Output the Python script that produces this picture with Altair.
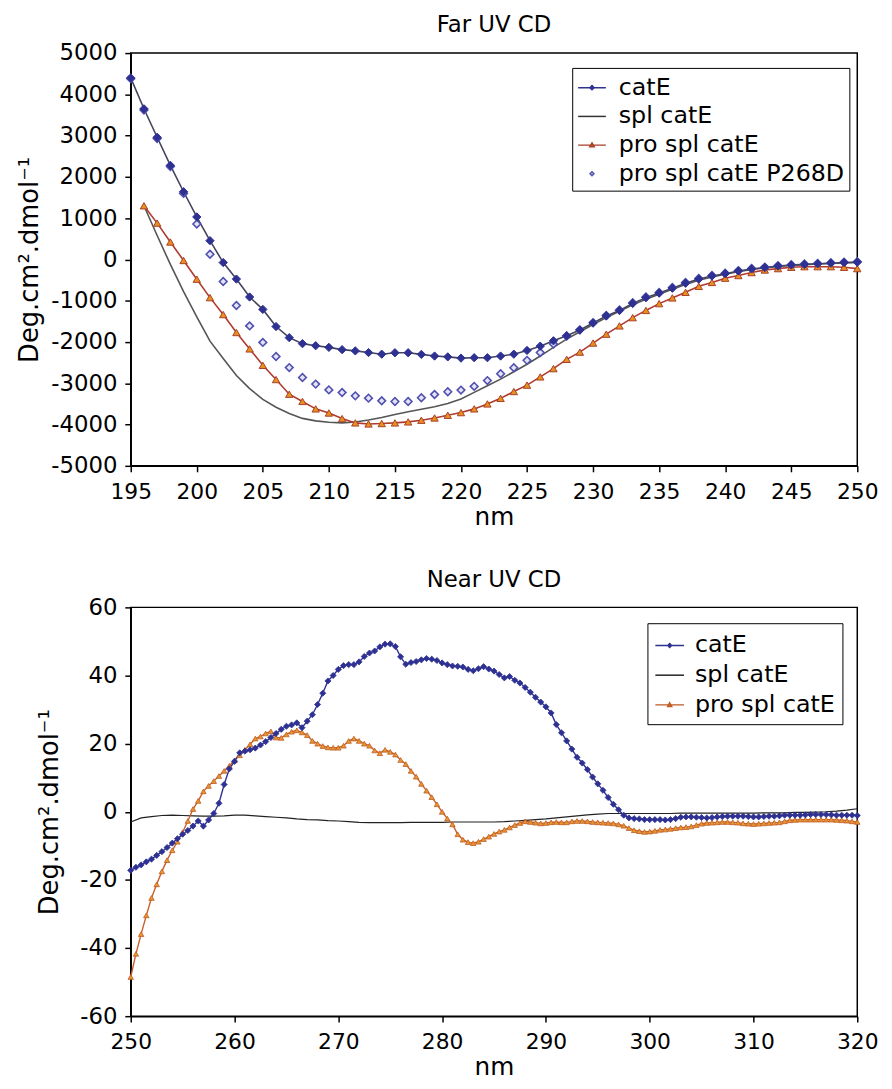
import altair as alt
import pandas as pd

# ---------------- Far UV CD (top) ----------------
FAR_NM = list(range(195, 251))
far_cate = [4400, 3650, 2960, 2280, 1640, 1030, 455, -75, -475, -910,
            -1210, -1625, -1895, -2040, -2090, -2130, -2185, -2215, -2255, -2295,
            -2260, -2260, -2300, -2340, -2360, -2390, -2380, -2380, -2340, -2295,
            -2205, -2100, -1970, -1850, -1710, -1540, -1370, -1235, -1065, -925,
            -815, -695, -575, -475, -400, -345, -280, -230, -195, -160,
            -135, -120, -105, -90, -75, -65]
far_p268d = [4380, 3620, 2930, 2250, 1600, 860, 125, -533, -1115, -1610,
             -2010, -2350, -2620, -2860, -3020, -3160, -3225, -3305, -3360, -3425,
             -3440, -3440, -3350, -3270, -3205, -3165, -3075, -2935, -2770, -2625,
             -2445, -2255, -2050, -1855, -1705, -1530, -1355, -1225, -1050, -910,
             -800, -680, -560, -460, -390, -335, -270, -220, -185, -150,
             -127, -110, -95, -80, -65, -55]
FAR_NM_PRO = list(range(196, 251))
far_pro = [1300, 880, 423, -25, -478, -925, -1335, -1770, -2167, -2565,
           -2910, -3265, -3440, -3620, -3720, -3855, -3960, -3985, -3975, -3960,
           -3935, -3895, -3840, -3775, -3710, -3620, -3500, -3365, -3200, -3045,
           -2845, -2645, -2420, -2245, -2025, -1810, -1610, -1410, -1235, -1070,
           -932, -796, -652, -557, -454, -390, -318, -255, -222, -190,
           -175, -175, -175, -190, -222]
far_spl = [1300, 580, -120, -780, -1390, -1980, -2400, -2810, -3130, -3390,
           -3580, -3730, -3850, -3910, -3945, -3960, -3940, -3890, -3830, -3755,
           -3690, -3630, -3570, -3490, -3380, -3220, -3060, -2900, -2720, -2540,
           -2340, -2130, -1930, -1750, -1580, -1410, -1255, -1100, -965, -845,
           -725, -605, -505, -425, -355, -295, -245, -205, -170, -145,
           -125, -110, -95, -85, -75]

FAR_SERIES = ["catE", "spl catE", "pro spl catE", "pro spl catE P268D"]
FAR_STROKES = ["#2e3192", "#333333", "#a8402a", "#5050b0"]
FAR_FILLS = ["#2e3192", "#333333", "#e8901e", "#e4e4f4"]
FAR_SHAPES = ["M-1,0H1M0,-0.15L0.15,0L0,0.15L-0.15,0Z",
              "M-1,0H1",
              "M-1,0H1M0,-0.16L0.16,0.12L-0.16,0.12Z",
              "M0,-0.14L0.14,0L0,0.14L-0.14,0Z"]

# ---------------- Near UV CD (bottom) ----------------
near_cate = [-17.2, -16.3, -15.6, -14.7, -13.9, -12.8, -11.7, -10.5, -9.2, -7.9,
             -6.6, -5.5, -4.2, -2.7, -4.2, -2.4, -0.5, 2.5, 8.0, 12.6,
             14.8, 17.3, 17.8, 18.2, 18.7, 19.6, 20.6, 21.8, 23.0, 24.2,
             25.1, 25.5, 26.1, 24.7, 26.6, 28.5, 31.5, 34.8, 38.4, 40.0,
             41.8, 42.9, 43.2, 43.2, 44.0, 45.6, 46.6, 47.2, 48.4, 49.2,
             49.3, 48.5, 45.5, 43.3, 43.8, 44.1, 44.6, 45.0, 44.8, 44.4,
             43.7, 43.2, 42.8, 42.7, 42.5, 41.8, 41.4, 42.0, 42.6, 41.9,
             41.3, 40.3, 39.3, 39.7, 38.6, 37.8, 36.5, 35.1, 33.6, 32.2,
             30.8, 29.0, 25.6, 23.2, 20.8, 18.4, 16.0, 14.3, 12.4, 10.2,
             8.2, 6.3, 4.2, 2.2, 0.6, -1.0, -1.8, -2.0, -2.1, -2.3,
             -2.3, -2.3, -2.3, -2.4, -2.3, -2.0, -1.6, -1.5, -1.5, -1.6,
             -1.7, -1.8, -1.7, -1.5, -1.4, -1.3, -1.3, -1.3, -1.3, -1.4,
             -1.5, -1.5, -1.4, -1.3, -1.3, -1.2, -1.0, -1.0, -1.0, -1.0,
             -0.9, -0.8, -0.8, -0.8, -0.8, -0.9, -1.0, -1.0, -1.0, -1.0,
             -1.1]
near_pro = [-48.5, -41.7, -35.9, -30.4, -25.3, -21.3, -17.5, -14.2, -11.3, -8.8,
            -6.0, -2.7, 0.8, 3.2, 6.0, 7.6, 9.0, 10.5, 12.0, 13.5,
            15.1, 16.6, 18.2, 19.8, 21.5, 22.1, 23.0, 23.6, 21.8, 21.7,
            22.7, 23.5, 23.9, 23.3, 22.5, 20.8, 20.0, 19.3, 18.9, 18.8,
            18.8, 19.4, 20.8, 21.5, 20.8, 20.0, 19.4, 18.0, 17.2, 18.2,
            17.6, 16.8, 15.2, 14.0, 12.0, 10.3, 8.2, 6.2, 4.3, 2.2,
            0.0, -2.0, -3.7, -6.6, -8.2, -8.9, -9.2, -8.8, -8.0, -7.3,
            -6.5, -5.8, -5.3, -4.6, -3.9, -3.3, -2.8, -3.0, -3.2, -3.4,
            -3.3, -3.1, -3.0, -3.1, -3.1, -2.8, -2.7, -2.7, -2.8, -3.0,
            -3.1, -3.2, -3.3, -3.4, -3.7, -4.1, -4.8, -5.4, -5.7, -5.9,
            -5.8, -5.6, -5.3, -5.2, -5.0, -4.8, -4.6, -4.5, -4.3, -3.9,
            -3.5, -3.3, -3.2, -3.1, -3.0, -3.0, -3.1, -3.2, -3.4, -3.5,
            -3.6, -3.5, -3.4, -3.3, -3.2, -3.1, -2.8, -2.5, -2.4, -2.3,
            -2.3, -2.3, -2.3, -2.3, -2.3, -2.3, -2.4, -2.5, -2.6, -2.8,
            -3.0]
NEAR_NM_HALF = [250 + 0.5 * i for i in range(len(near_cate))]
NEAR_NM = list(range(250, 321))
near_spl = [-3.0, -1.8, -1.4, -1.1, -1.0, -1.1, -1.2, -1.3, -1.3, -1.2,
            -1.0, -1.0, -1.2, -1.4, -1.6, -1.8, -2.1, -2.3, -2.4, -2.6,
            -2.7, -2.9, -3.1, -3.2, -3.2, -3.2, -3.2, -3.1, -3.1, -3.1,
            -3.1, -3.0, -3.0, -3.0, -3.0, -3.0, -2.9, -2.7, -2.5, -2.3,
            -2.1, -1.8, -1.5, -1.2, -0.9, -0.7, -0.5, -0.5, -0.5, -0.5,
            -0.5, -0.5, -0.5, -0.4, -0.4, -0.4, -0.4, -0.4, -0.4, -0.4,
            -0.4, -0.3, -0.3, -0.3, -0.2, -0.2, -0.1, 0.0, 0.2, 0.5,
            0.9]

NEAR_SERIES = ["catE", "spl catE", "pro spl catE"]
NEAR_STROKES = ["#2e3192", "#222222", "#c05a24"]
NEAR_FILLS = ["#2e3192", "#222222", "#e8962e"]
NEAR_SHAPES = ["M-1,0H1M0,-0.13L0.13,0L0,0.13L-0.13,0Z",
               "M-1,0H1",
               "M-1,0H1M0,-0.14L0.14,0.11L-0.14,0.11Z"]

FONT = "DejaVu Sans"
YTITLE = "Deg.cm\u00b2.dmol\u207b\u00b9"


def xy(xdom, xstep, ydom, ystep, ypad):
    x = alt.X("nm:Q", scale=alt.Scale(domain=xdom, nice=False, zero=False),
              axis=alt.Axis(values=list(range(xdom[0], xdom[1] + 1, xstep)),
                            title="nm", labelExpr="'' + datum.value",
                            labelFlush=False))
    y = alt.Y("v:Q", scale=alt.Scale(domain=ydom, nice=False, zero=False),
              axis=alt.Axis(values=list(range(ydom[0], ydom[1] + 1, ystep)),
                            title=YTITLE, titlePadding=ypad,
                            labelExpr="'' + datum.value", labelFlush=False))
    return x, y


def frame(nm, v):
    return pd.DataFrame({"nm": nm, "v": v})


def legend_layer(series, strokes, fills, shapes, lx, ly, size, pad, offset, field):
    leg = alt.Legend(title=None, orient="none", legendX=lx, legendY=ly,
                     strokeColor="black", fillColor="white", padding=pad,
                     rowPadding=2, labelFont=FONT, labelFontSize=24,
                     labelColor="black", labelLimit=400, labelOffset=offset,
                     symbolSize=size, symbolStrokeWidth=1.5, symbolOpacity=1)
    df = pd.DataFrame({field: series})
    return alt.Chart(df).mark_point(opacity=0).encode(
        fill=alt.Fill(f"{field}:N", scale=alt.Scale(domain=series, range=fills), legend=leg),
        stroke=alt.Stroke(f"{field}:N", scale=alt.Scale(domain=series, range=strokes), legend=leg),
        shape=alt.Shape(f"{field}:N", scale=alt.Scale(domain=series, range=shapes), legend=leg),
    )


# ---- top chart
tx, ty = xy([195, 250], 5, [-5000, 5000], 1000, 8)
top_layers = [
    alt.Chart(frame(FAR_NM_PRO, far_spl)).mark_line(color="#555555", strokeWidth=1.6).encode(x=tx, y=ty),
    alt.Chart(frame(FAR_NM_PRO, far_pro)).mark_line(color="#b03a2e", strokeWidth=1.6).encode(x=tx, y=ty),
    alt.Chart(frame(FAR_NM, far_cate)).mark_line(color="#44445e", strokeWidth=1.6).encode(x=tx, y=ty),
    alt.Chart(frame(FAR_NM, far_p268d)).mark_point(shape="diamond", filled=True, fill="#e4e4f4",
                                                  stroke="#5050b0", strokeWidth=1.6, size=60,
                                                  opacity=1).encode(x=tx, y=ty),
    alt.Chart(frame(FAR_NM_PRO, far_pro)).mark_point(shape="triangle-up", filled=True, fill="#e8901e",
                                                    stroke="#a8402a", strokeWidth=1, size=55,
                                                    opacity=1).encode(x=tx, y=ty),
    alt.Chart(frame(FAR_NM, far_cate)).mark_point(shape="diamond", filled=True, fill="#2e3192",
                                                 stroke="#2e3192", strokeWidth=1, size=70,
                                                 opacity=1).encode(x=tx, y=ty),
    legend_layer(FAR_SERIES, FAR_STROKES, FAR_FILLS, FAR_SHAPES, 446, 15, 784, 5, 12, "far"),
]
top = alt.layer(*top_layers).properties(
    width=734, height=417,
    title=alt.TitleParams("Far UV CD", fontSize=23, font=FONT, fontWeight="normal",
                          anchor="middle", frame="group", offset=5, color="black"))

# ---- bottom chart
bx, by = xy([250, 320], 10, [-60, 60], 20, 17)
bottom_layers = [
    alt.Chart(frame(NEAR_NM, near_spl)).mark_line(color="#222222", strokeWidth=1.2).encode(x=bx, y=by),
    alt.Chart(frame(NEAR_NM_HALF, near_pro)).mark_line(color="#c8602a", strokeWidth=1.4).encode(x=bx, y=by),
    alt.Chart(frame(NEAR_NM_HALF, near_cate)).mark_line(color="#2e3192", strokeWidth=1.4).encode(x=bx, y=by),
    alt.Chart(frame(NEAR_NM_HALF, near_pro)).mark_point(shape="triangle-up", filled=True, fill="#e8962e",
                                                       stroke="#c05a24", strokeWidth=0.8, size=30,
                                                       opacity=1).encode(x=bx, y=by),
    alt.Chart(frame(NEAR_NM_HALF, near_cate)).mark_point(shape="diamond", filled=True, fill="#2e3192",
                                                        stroke="#2e3192", strokeWidth=0.8, size=38,
                                                        opacity=1).encode(x=bx, y=by),
    legend_layer(NEAR_SERIES, NEAR_STROKES, NEAR_FILLS, NEAR_SHAPES, 522, 16, 841, 7, 10, "near"),
]
bottom = alt.layer(*bottom_layers).properties(
    width=734, height=413,
    title=alt.TitleParams("Near UV CD", fontSize=23, font=FONT, fontWeight="normal",
                          anchor="middle", frame="group", offset=5, color="black"))

chart = alt.vconcat(top, bottom, spacing=38).resolve_scale(
    fill="independent", stroke="independent", shape="independent"
).properties(
    padding={"left": 8, "top": 0, "right": 5, "bottom": 0}
).configure_view(
    stroke="black", strokeWidth=1.5
).configure_axis(
    grid=False, domainColor="black", domainWidth=1.5, tickColor="black", tickWidth=1.5,
    tickSize=6, labelFont=FONT, labelColor="black", titleFont=FONT, titleColor="black",
    titleFontWeight="normal"
).configure_axisX(
    labelFontSize=22, labelPadding=10, titleFontSize=25, titlePadding=2
).configure_axisY(
    labelFontSize=23, labelPadding=8, titleFontSize=26
)

chart.save("out.html", embed_options={"renderer": "svg", "actions": False})
